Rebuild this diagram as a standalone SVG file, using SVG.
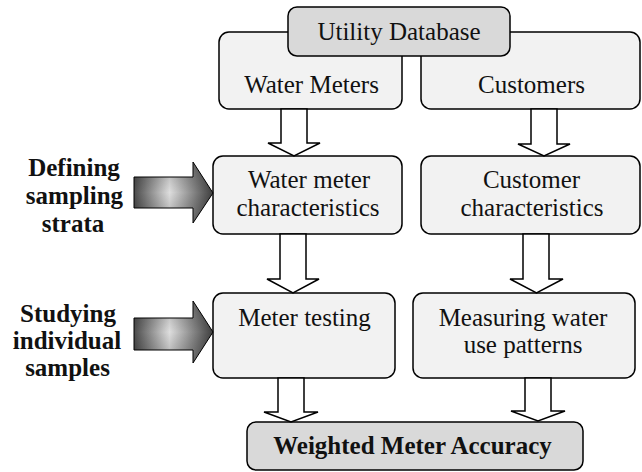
<svg xmlns="http://www.w3.org/2000/svg" width="642" height="472" viewBox="0 0 642 472">
<defs>
<linearGradient id="g" x1="0" y1="0" x2="1" y2="0">
<stop offset="0" stop-color="#4a4a4a"/>
<stop offset="0.45" stop-color="#dedede"/>
<stop offset="1" stop-color="#3e3e3e"/>
</linearGradient>
<linearGradient id="gv" x1="0" y1="0" x2="0" y2="1">
<stop offset="0" stop-color="#000" stop-opacity="0.25"/>
<stop offset="0.5" stop-color="#000" stop-opacity="0"/>
<stop offset="1" stop-color="#000" stop-opacity="0.25"/>
</linearGradient>
</defs>
<style>
.box{fill:#f2f2f2;stroke:#000;stroke-width:1.5}
.dbox{fill:#d9d9d9;stroke:#000;stroke-width:1.5}
.arr{fill:#fff;stroke:#000;stroke-width:1.5;stroke-linejoin:miter}
.garr{stroke:#000;stroke-width:1}
.t{font-size:25px;fill:#111;text-anchor:middle}
.b{font-size:25px;font-weight:bold;fill:#111;text-anchor:middle}
</style>
<rect width="642" height="472" fill="#fff"/>
<g font-family="Liberation Serif, serif">
<g id="water-meters"><rect class="box" x="219" y="32" width="183" height="77" rx="10"/><text class="t" x="311.5" y="93">Water Meters</text></g>
<g id="customers"><rect class="box" x="421" y="32" width="219" height="77" rx="10"/><text class="t" x="531.5" y="93">Customers</text></g>
<g id="utility-database"><rect class="dbox" x="288" y="7" width="222" height="49" rx="9"/><text class="t" x="399" y="40">Utility Database</text></g>
<g id="water-meter-characteristics"><rect class="box" x="213" y="156" width="189" height="78" rx="10"/><text class="t" x="309" y="188">Water meter</text><text class="t" x="308" y="216">characteristics</text></g>
<g id="customer-characteristics"><rect class="box" x="421" y="156" width="219" height="78" rx="10"/><text class="t" x="531.5" y="188">Customer</text><text class="t" x="532" y="216">characteristics</text></g>
<g id="meter-testing"><rect class="box" x="213" y="293" width="182" height="85" rx="10"/><text class="t" x="304.5" y="326">Meter testing</text></g>
<g id="measuring-water-use"><rect class="box" x="413" y="293" width="222" height="85" rx="10"/><text class="t" x="523" y="326">Measuring water</text><text class="t" x="523" y="353">use patterns</text></g>
<g id="weighted-meter-accuracy"><rect class="dbox" x="247" y="422" width="336" height="48" rx="9"/><text class="b" x="412.5" y="454">Weighted Meter Accuracy</text></g>
<g id="defining-sampling-strata"><text class="b" x="74" y="176">Defining</text><text class="b" x="74.5" y="204">sampling</text><text class="b" x="73" y="232">strata</text></g>
<g id="studying-individual-samples"><text class="b" x="68" y="322">Studying</text><text class="b" x="67" y="349">individual</text><text class="b" x="67.5" y="376">samples</text></g>
</g>
<g id="connectors">
<polygon class="arr" points="281,109 307,109 307,143 320,143 294,156 268,143 281,143"/>
<polygon class="arr" points="531,109 557,109 557,144 570,144 544,156 518,144 531,144"/>
<polygon class="arr" points="280,234 306,234 306,279 319,279 293,293 267,279 280,279"/>
<polygon class="arr" points="523,234 549,234 549,279 563,279 536.5,293 510,279 523,279"/>
<polygon class="arr" points="278,378 304,378 304,412 318,412 291,422 264,412 278,412"/>
<polygon class="arr" points="525,378 551,378 551,411 565,411 538,421 511,411 525,411"/>
<polygon class="garr" fill="url(#g)" points="134,177 193,177 193,162 213,193 193,223 193,208 134,208"/>
<polygon fill="url(#gv)" points="134,177 193,177 193,162 213,193 193,223 193,208 134,208"/>
<polygon class="garr" fill="url(#g)" points="134,318 193,318 193,301 213,332 193,363 193,350 134,350"/>
<polygon fill="url(#gv)" points="134,318 193,318 193,301 213,332 193,363 193,350 134,350"/>
</g>
</svg>
